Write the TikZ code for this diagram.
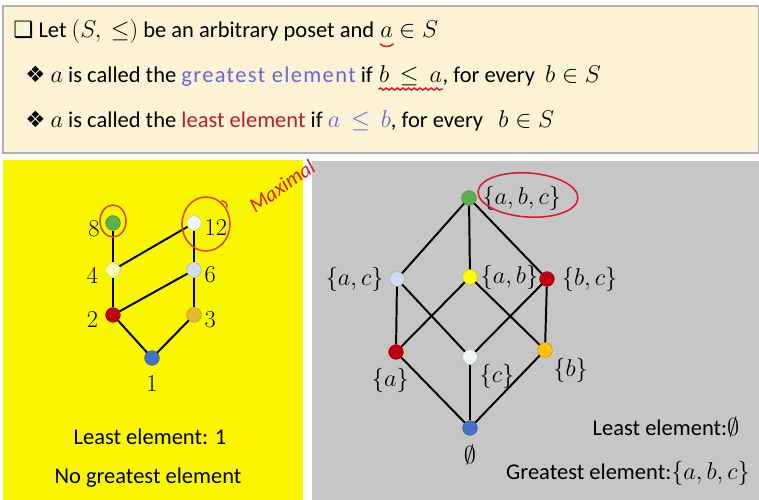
\documentclass[tikz,border=0pt]{standalone}
\usepackage{amsmath,amssymb}
\usepackage{fontspec}
\setmainfont{Carlito}
\newfontfamily\dingfont{DejaVu Sans}
\usetikzlibrary{positioning,decorations.pathmorphing}

\definecolor{creambg}{RGB}{252,243,212}
\definecolor{yellowbg}{RGB}{250,246,0}
\definecolor{graybg}{RGB}{198,198,198}
\definecolor{bluetxt}{RGB}{104,104,214}
\definecolor{redtxt}{RGB}{178,34,40}
\definecolor{inkred}{RGB}{214,30,44}
\definecolor{inkorange}{RGB}{212,70,30}
\definecolor{vgreen}{RGB}{92,176,80}
\definecolor{vblue}{RGB}{68,114,196}
\definecolor{vred}{RGB}{192,0,16}
\definecolor{vgold}{RGB}{230,184,50}
\definecolor{vorange}{RGB}{255,192,0}
\definecolor{vyellow}{RGB}{255,255,0}
\definecolor{vpaleyel}{RGB}{250,250,180}
\definecolor{vpaleblue}{RGB}{205,222,242}
\definecolor{vwhite}{RGB}{240,246,240}

\newcommand{\bigtxt}{\fontsize{16}{19}\selectfont}

\begin{document}
\begin{tikzpicture}[x=0.025cm,y=-0.025cm,
    vtx/.style={circle,minimum size=10.5pt,inner sep=0pt,fill=#1,draw=#1!75!black,line width=0.3pt},
    every label/.style={inner sep=2pt,font=\bigtxt},
    txt/.style={anchor=base west,inner sep=0pt,font=\bigtxt},
    edge/.style={line width=1.4pt},
    ink/.style={line width=1.1pt,line cap=round}]
  \useasboundingbox (0,0) rectangle (759,500);
  \fill[white] (0,0) rectangle (759,500);
  \filldraw[fill=creambg,draw=gray!60,line width=1pt] (3,6) rectangle (759,153);
  \fill[yellowbg] (3,160) rectangle (303,500);
  \fill[graybg] (312,161) rectangle (759,500);

  % definitions
  \node[txt] (l1a) at (13,37) {{\dingfont ❑}\ Let $(S,\ \leq)$ be an arbitrary poset and};
  \node[txt] (l1b) at ([xshift=4pt]l1a.base east) {$a$};
  \node[txt] (l1c) at ([xshift=4pt]l1b.base east) {$\in S$};
  \node[txt] (l2a) at (20,82) {\ {\dingfont ❖}\ $a$ is called the \textcolor{bluetxt}{\addfontfeature{LetterSpace=6}greatest element} if};
  \node[txt] (l2b) at ([xshift=4pt]l2a.base east) {$b\,\leq\, a$};
  \node[txt] (l2c) at (l2b.base east) {, for every\ \ $b\in S$};
  \node[txt] (l3) at (20,128) {\ {\dingfont ❖}\ $a$ is called the \textcolor{redtxt}{least element} if \textcolor{bluetxt}{$a\,\leq\, b$}, for every\ \ \ $b\in S$};
  \draw[ink,inkred] ([yshift=-5pt]l1b.base west) to[bend right=40] ([yshift=-5pt]l1b.base east);
  \draw[ink,inkred,decorate,decoration={snake,amplitude=0.7pt,segment length=4pt}]
    ([yshift=-5pt]l2b.base west) -- ([yshift=-5pt]l2b.base east);

  % divisors of 24 without 24
  \node[vtx=vgreen,label={[xshift=-2pt,yshift=-4pt]left:$8$}] (n8) at (113,223) {};
  \node[vtx=vwhite,label={[yshift=-3pt]right:$12$}] (n12) at (194,223) {};
  \node[vtx=vpaleyel,label={[xshift=-3pt,yshift=-4pt]left:$4$}] (n4) at (113,270) {};
  \node[vtx=vpaleblue,label={[yshift=-3pt]right:$6$}] (n6) at (194,270) {};
  \node[vtx=vred,label={[xshift=-3pt,yshift=-3pt]left:$2$}] (n2) at (113,315) {};
  \node[vtx=vgold,label={[yshift=-3pt]right:$3$}] (n3) at (194,315) {};
  \node[vtx=vblue,label={[label distance=5pt]below:$1$}] (n1) at (152,358) {};
  \draw[edge] (n8) -- (n4);
  \draw[edge] (n4) -- (n2);
  \draw[edge] (n4) -- (n12);
  \draw[edge] (n12) -- (n6);
  \draw[edge] (n2) -- (n6);
  \draw[edge] (n6) -- (n3);
  \draw[edge] (n2) -- (n1);
  \draw[edge] (n3) -- (n1);
  \node[font=\bigtxt] (least1) at (150,437) {Least element: 1};
  \node[font=\bigtxt] (nogreat) at (148,478) {No greatest element};

  % power set of {a,b,c}
  \node[vtx=vgreen,label={[xshift=2pt]right:$\{a,b,c\}$}] (sabc) at (469,198) {};
  \node[vtx=vpaleblue,label={[xshift=-2pt]left:$\{a,c\}$}] (sac) at (397,279) {};
  \node[vtx=vyellow,label={right:$\{a,b\}$}] (sab) at (470,277) {};
  \node[vtx=vred,label={[xshift=3pt]right:$\{b,c\}$}] (sbc) at (547,279) {};
  \node[vtx=vred,label={[xshift=-4pt,label distance=4pt]below:$\{a\}$}] (sa) at (396,352) {};
  \node[vtx=vwhite,label={-30:$\{c\}$}] (sc) at (470,357) {};
  \node[vtx=vorange,label={-45:$\{b\}$}] (sb) at (545,350) {};
  \node[vtx=vblue,label={[label distance=5pt]below:$\emptyset$}] (s0) at (470,428) {};
  \draw[edge] (sabc) -- (sac);
  \draw[edge] (sabc) -- (sab);
  \draw[edge] (sabc) -- (sbc);
  \draw[edge] (sac) -- (sa);
  \draw[edge] (sac) -- (sc);
  \draw[edge] (sab) -- (sa);
  \draw[edge] (sab) -- (sb);
  \draw[edge] (sbc) -- (sc);
  \draw[edge] (sbc) -- (sb);
  \draw[edge] (sa) -- (s0);
  \draw[edge] (sc) -- (s0);
  \draw[edge] (sb) -- (s0);
  \node[font=\bigtxt] (least2) at (666,427) {Least element:$\emptyset$};
  \node[font=\bigtxt] (great2) at (628,473) {Greatest element:$\{a,b,c\}$};

  % hand-written marks
  \draw[ink,inkorange] (113,221) ellipse [x radius=13,y radius=16];
  \draw[ink,inkorange] (206,224) ellipse [x radius=24,y radius=27];
  \draw[ink,inkorange] (222,201) to[bend left=50] (227,207);
  \node[rotate=35,text=inkred,font=\fontsize{15}{17}\selectfont\itshape] (maxi) at (282,186) {Maximal};
  \draw[ink,inkred,rotate around={-4:(528,195)}] (528,195) ellipse [x radius=50,y radius=22];
\end{tikzpicture}
\end{document}
